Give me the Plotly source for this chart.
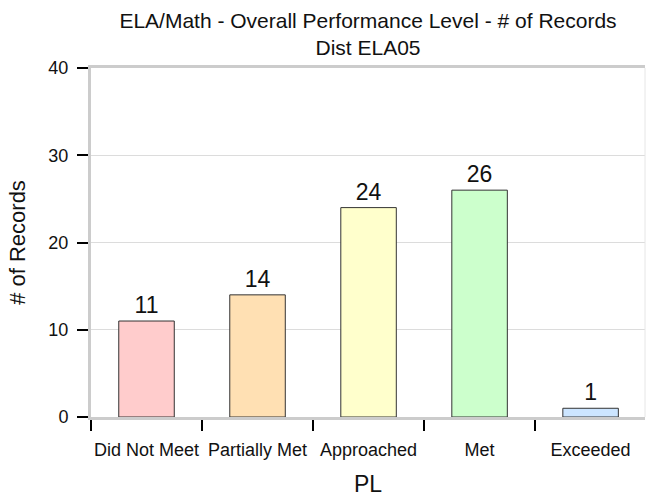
import plotly.graph_objects as go

categories = ["Did Not Meet", "Partially Met", "Approached", "Met", "Exceeded"]
records = [11, 14, 24, 26, 1]
bar_colors = ["#FFCCCC", "#FFE0B3", "#FFFFCC", "#CCFFCC", "#CCE5FF"]
y_ticks = [0, 10, 20, 30, 40]

FONT = "Liberation Sans, Arial, sans-serif"

fig = go.Figure()
fig.add_trace(go.Bar(
    x=categories,
    y=records,
    width=0.5,
    marker=dict(color=bar_colors, line=dict(color="#333333", width=1)),
    text=[str(v) for v in records],
    textposition="outside",
    textfont=dict(size=23, color="#111111", family=FONT),
    cliponaxis=False,
))

fig.update_layout(
    width=646,
    height=502,
    paper_bgcolor="white",
    plot_bgcolor="white",
    margin=dict(l=91, r=1, t=68, b=85),
    showlegend=False,
    font=dict(family=FONT, color="#111111"),
    title=dict(
        text="ELA/Math - Overall Performance Level - # of Records<br>Dist ELA05",
        font=dict(size=21, family=FONT, color="#111111"),
        x=(91 + 645) / 2 / 646,
        xanchor="center",
        y=1 - 28 / 502,
        yanchor="middle",
        yref="container",
    ),
    bargap=0.5,
)

fig.update_xaxes(
    type="category",
    range=[-0.5, 4.49],
    automargin=False,
    showline=True,
    linecolor="#cccccc",
    linewidth=3,
    mirror=True,
    ticks="outside",
    tickson="boundaries",
    ticklen=11,
    tickwidth=2,
    tickcolor="#000000",
    tickangle=0,
    ticklabelstandoff=14,
    tickfont=dict(size=18, family=FONT, color="#111111"),
    showgrid=False,
    title=dict(text="PL", font=dict(size=23, family=FONT, color="#111111"), standoff=18),
)

fig.update_yaxes(
    range=[0, 40],
    tickvals=y_ticks,
    automargin=False,
    showline=True,
    linecolor="#cccccc",
    linewidth=3,
    ticks="outside",
    ticklen=11,
    tickwidth=2,
    tickcolor="#000000",
    ticklabelstandoff=5,
    tickfont=dict(size=18, family=FONT, color="#111111"),
    showgrid=True,
    gridcolor="#dcdcdc",
    gridwidth=1,
    zeroline=False,
    title=dict(text="# of Records", font=dict(size=22, family=FONT, color="#111111"), standoff=17),
)

fig.add_shape(type="line", xref="paper", yref="paper", x0=1, x1=1, y0=0, y1=1,
              line=dict(color="#e6e6e6", width=1))

fig.write_html("out.html", config={"displayModeBar": False},
               post_script="document.body.style.margin='0';")
